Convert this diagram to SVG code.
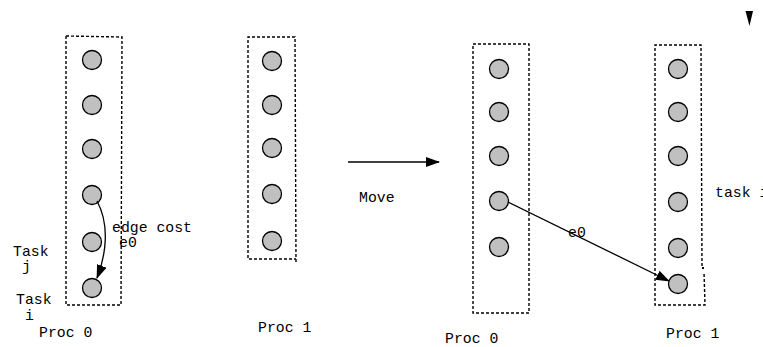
<svg xmlns="http://www.w3.org/2000/svg" width="763" height="347" viewBox="0 0 763 347">
  <style>
    .box { fill: none; stroke: #000; stroke-width: 1.4; stroke-dasharray: 3 2; }
    .task { fill: #c0c0c0; stroke: #000; stroke-width: 1.3; }
    .edge { fill: none; stroke: #000; stroke-width: 1.3; }
    text { font-family: "Liberation Mono", "DejaVu Sans Mono", monospace; font-size: 14.8px; fill: #000; }
  </style>
  <defs>
    <marker id="head" viewBox="0 0 14 10" refX="13" refY="5" markerWidth="14" markerHeight="10" markerUnits="userSpaceOnUse" orient="auto">
      <path d="M0,0 L14,5 L0,10 Z" fill="#000"/>
    </marker>
  </defs>
  <rect width="763" height="347" fill="#fff"/>

  <!-- before the move: processor 0 -->
  <g id="proc0-before">
    <polygon class="box" points="66,36 122,37 121,305 66,305"/>
    <circle class="task" cx="92" cy="60" r="9.5"/>
    <circle class="task" cx="92" cy="105" r="9.5"/>
    <circle class="task" cx="92" cy="149" r="9.5"/>
    <circle class="task" cx="92" cy="195" r="9.5"/>
    <circle class="task" cx="92" cy="242" r="9.5"/>
    <circle class="task" cx="92" cy="288" r="9.5"/>
    <text x="39" y="337">Proc 0</text>
  </g>

  <!-- before the move: processor 1 -->
  <g id="proc1-before">
    <polyline class="box" points="296,262 295,37 248,37 248,259 296,259"/>
    <circle class="task" cx="272" cy="61" r="9.5"/>
    <circle class="task" cx="272" cy="105" r="9.5"/>
    <circle class="task" cx="272" cy="148" r="9.5"/>
    <circle class="task" cx="272" cy="194" r="9.5"/>
    <circle class="task" cx="272" cy="241" r="9.5"/>
    <text x="258" y="332">Proc 1</text>
  </g>

  <!-- after the move: processor 0 -->
  <g id="proc0-after">
    <polygon class="box" points="473,44 529,44 529,313 473,313"/>
    <circle class="task" cx="499" cy="69" r="9.5"/>
    <circle class="task" cx="499" cy="112" r="9.5"/>
    <circle class="task" cx="499" cy="156" r="9.5"/>
    <circle class="task" cx="499" cy="201" r="9.5"/>
    <circle class="task" cx="499" cy="247" r="9.5"/>
    <text x="445" y="343">Proc 0</text>
  </g>

  <!-- after the move: processor 1 -->
  <g id="proc1-after">
    <polyline class="box" points="702,266 701,45 655,45 655,305 705,305 704,272"/>
    <rect x="702" y="267" width="2" height="2" fill="#000"/>
    <circle class="task" cx="678" cy="69" r="9.5"/>
    <circle class="task" cx="678" cy="112" r="9.5"/>
    <circle class="task" cx="678" cy="156" r="9.5"/>
    <circle class="task" cx="678" cy="202" r="9.5"/>
    <circle class="task" cx="678" cy="248" r="9.5"/>
    <circle class="task" cx="678" cy="284" r="9.5"/>
    <text x="666" y="338">Proc 1</text>
  </g>

  <!-- task labels -->
  <g id="labels">
    <text x="13" y="256">Task</text>
    <text x="22" y="271">j</text>
    <text x="16" y="304">Task</text>
    <text x="25" y="320">i</text>
    <text x="112" y="232">edge cost</text>
    <text x="119" y="247">e0</text>
    <text x="359" y="202">Move</text>
    <text x="568" y="237">e0</text>
    <text x="715" y="197">task i</text>
  </g>

  <!-- connectors -->
  <g id="connectors">
    <path class="edge" d="M97,201 C110,225 106,255 97,278" marker-end="url(#head)"/>
    <line class="edge" x1="348" y1="162" x2="439" y2="162" marker-end="url(#head)"/>
    <line class="edge" x1="508" y1="202" x2="669" y2="281" marker-end="url(#head)"/>
  </g>

  <!-- corner marker -->
  <polygon id="corner-mark" points="745.5,11 753,11 749.5,26" fill="#000"/>
</svg>
